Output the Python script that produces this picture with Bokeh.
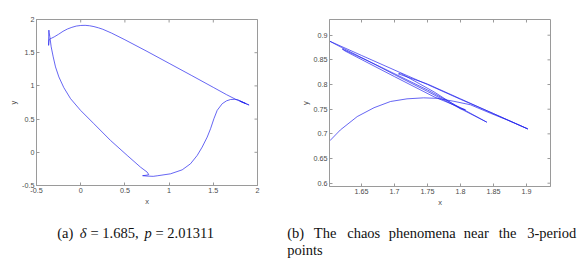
import math
from bokeh.plotting import figure
from bokeh.layouts import column, row
from bokeh.models import Range1d, NumeralTickFormatter, FixedTicker
from bokeh.core.properties import value
from bokeh.embed import file_html
from bokeh.resources import INLINE

# ---- data: panel (a) full orbit ----
a_x = [-0.342, -0.33, -0.30, -0.25, -0.20, -0.15, -0.10, -0.05, 0.00, 0.05, 0.10, 0.15, 0.20,
       0.25, 0.35, 0.50, 0.75, 1.00, 1.25, 1.50, 1.65, 1.75, 1.82, 1.905,
       1.80, 1.87, 1.78, 1.74, 1.695, 1.65, 1.601, 1.544, 1.507, 1.469, 1.431, 1.374, 1.318,
       1.242, 1.148, 1.016, 0.865, 0.82, 0.75, 0.70, 0.74, 0.77,
       0.752, 0.677, 0.526, 0.337, 0.149, -0.002, -0.115, -0.191, -0.247, -0.285, -0.311,
       -0.334, -0.349, -0.357, -0.360, -0.362, -0.363, -0.360, -0.356, -0.342]
a_y = [1.713, 1.718, 1.738, 1.778, 1.822, 1.857, 1.882, 1.901, 1.910, 1.912, 1.906, 1.893, 1.875,
       1.853, 1.795, 1.695, 1.520, 1.340, 1.160, 0.978, 0.868, 0.800, 0.758, 0.712,
       0.772, 0.733, 0.790, 0.798, 0.795, 0.775, 0.732, 0.632, 0.506, 0.355, 0.229, 0.078, -0.047,
       -0.173, -0.264, -0.324, -0.354, -0.362, -0.358, -0.352, -0.346, -0.336,
       -0.299, -0.224, -0.047, 0.179, 0.431, 0.632, 0.808, 0.974, 1.135, 1.286, 1.437,
       1.588, 1.738, 1.800, 1.840, 1.750, 1.610, 1.660, 1.700, 1.713]

# ---- data: panel (b) zoom near the 3-period points ----
b_x = [1.602, 1.618, 1.6435, 1.669, 1.694, 1.719, 1.744, 1.765, 1.790, 1.815, 1.845, 1.871, 1.902,
       1.85, 1.80, 1.75, 1.709, 1.65, 1.6015,
       1.62, 1.66, 1.70, 1.75, 1.80, 1.840,
       1.75, 1.68, 1.6208, 1.625, 1.70, 1.76, 1.8076, 1.80, 1.76, 1.709, 1.706,
       1.75, 1.80, 1.85, 1.902]
b_y = [0.686, 0.708, 0.735, 0.753, 0.7656, 0.771, 0.773, 0.772, 0.766, 0.759, 0.742, 0.728, 0.710,
       0.741, 0.770, 0.800, 0.824, 0.859, 0.888,
       0.875, 0.848, 0.820, 0.786, 0.751, 0.7236,
       0.789, 0.835, 0.872, 0.868, 0.816, 0.775, 0.7488, 0.751, 0.785, 0.823, 0.8215,
       0.801, 0.771, 0.741, 0.710]

a_ticks = [-0.5, 0.0, 0.5, 1.0, 1.5, 2.0]
b_xticks = [1.65, 1.70, 1.75, 1.80, 1.85, 1.90]
b_yticks = [0.60, 0.65, 0.70, 0.75, 0.80, 0.85, 0.90]

a_xlim = (-0.5, 2.0)
a_ylim = (-0.5, 2.0)
b_xlim = (1.6015, 1.9364)
b_ylim = (0.5933, 0.9318)

LINE = "#2424ee"
AX = "#9a9a9a"
LAB = "#4a4a4a"
TFONT = "Liberation Sans"


def style(p, xt, yt, xlim, ylim):
    p.xaxis[0].ticker = FixedTicker(ticks=xt)
    p.yaxis[0].ticker = FixedTicker(ticks=yt)
    for ax in [p.xaxis[0], p.yaxis[0]]:
        ax.formatter = NumeralTickFormatter(format="0.[00]")
        ax.major_tick_in = 3
        ax.major_tick_out = 0
        ax.minor_tick_line_color = None
        ax.axis_line_color = AX
        ax.major_tick_line_color = AX
        ax.major_label_text_color = LAB
        ax.major_label_text_font = TFONT
        ax.major_label_text_font_size = "7.2px"
        ax.axis_label_text_font = TFONT
        ax.axis_label_text_font_size = "7.5px"
        ax.axis_label_text_font_style = "normal"
        ax.axis_label_text_color = LAB
        ax.axis_label_standoff = 1
        ax.major_label_standoff = 2
    p.xaxis[0].axis_label = "x"
    p.yaxis[0].axis_label = "y"
    # inward ticks on the top and right edges of the box
    p.scatter(xt, [ylim[1]] * len(xt), marker="dash", angle=math.pi / 2, size=6,
              line_color=AX, line_width=1)
    p.scatter([xlim[1]] * len(yt), yt, marker="dash", size=6, line_color=AX, line_width=1)
    p.xgrid.visible = False
    p.ygrid.visible = False
    p.outline_line_color = AX
    p.background_fill_color = "white"
    p.border_fill_color = "white"


p1 = figure(frame_width=221, frame_height=166, output_backend="svg", toolbar_location=None,
            x_range=Range1d(*a_xlim), y_range=Range1d(*a_ylim),
            min_border_left=36, min_border_right=33, min_border_top=19, min_border_bottom=23)
p1.line(a_x, a_y, line_color=LINE, line_width=0.7)
style(p1, a_ticks, a_ticks, a_xlim, a_ylim)

p2 = figure(frame_width=221, frame_height=167, output_backend="svg", toolbar_location=None,
            x_range=Range1d(*b_xlim), y_range=Range1d(*b_ylim),
            min_border_left=39, min_border_right=33, min_border_top=18, min_border_bottom=23)
p2.line(b_x, b_y, line_color=LINE, line_width=0.7)
style(p2, b_xticks, b_yticks, b_xlim, b_ylim)

# ---- captions ----
cap = figure(width=583, height=50, output_backend="svg", toolbar_location=None,
             x_range=Range1d(0, 583), y_range=Range1d(258, 208),
             min_border=0)
cap.axis.visible = False
cap.xgrid.visible = False
cap.ygrid.visible = False
cap.outline_line_color = None

SERIF = value("Liberation Serif")
def put(x, y, s, style="normal"):
    cap.text(x=[x], y=[y], text=[s], text_font=SERIF, text_font_size="14.5px",
             text_font_style=style, text_baseline="alphabetic", text_align="left",
             text_color="#111111")

put(56.7, 232.5, "(a)")
put(79.3, 232.5, "δ", "italic")
put(90.0, 232.5, "= 1.685,")
put(144.0, 232.5, "p", "italic")
put(155.0, 232.5, "= 2.01311")

words = ["(b)", "The", "chaos", "phenomena", "near", "the", "3-period"]
wx = [286.7, 313.3, 346.7, 388.3, 463.3, 498.3, 526.7]
for w, x in zip(words, wx):
    put(x, 232.5, w)
put(286.7, 249.5, "points")

layout = column(row(p1, p2), cap)
open("out.html", "w").write(file_html(layout, INLINE))
